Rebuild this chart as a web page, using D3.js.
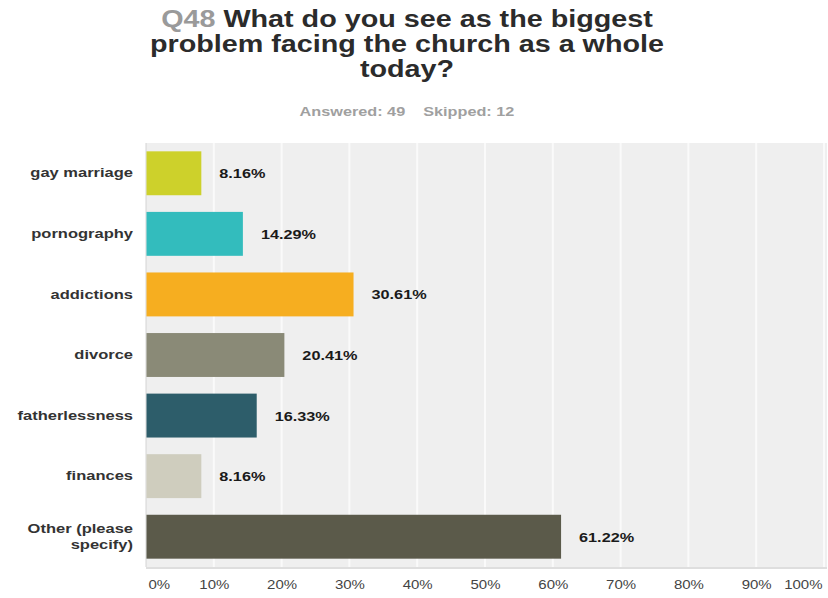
<!DOCTYPE html>
<html>
<head>
<meta charset="utf-8">
<script src="https://cdn.jsdelivr.net/npm/d3@7"></script>
<style>
  html, body { margin: 0; padding: 0; background: #fff; }
  svg { display: block; font-family: "Liberation Sans", Arial, sans-serif; }
</style>
</head>
<body>
<svg id="chart" width="828" height="598"></svg>
<script>
// Survey answers, top to bottom
const categories = ["gay marriage", "pornography", "addictions", "divorce", "fatherlessness", "finances", "Other (please specify)"];
const percents = [8.16, 14.29, 30.61, 20.41, 16.33, 8.16, 61.22];
const barColors = ["#cdd12b", "#33bcbd", "#f6ae20", "#8a8a77", "#2d5d6a", "#cfcdbe", "#5b5a4a"];
const tickValues = [0, 10, 20, 30, 40, 50, 60, 70, 80, 90, 100];

const titleNumber = "Q48";
const titleLines = ["What do you see as the biggest", "problem facing the church as a whole", "today?"];
const answered = 49, skipped = 12;

const svg = d3.select("#chart");
const plot = { left: 146, right: 824, top: 143, bottom: 567, bgRight: 827 };
const WIDE = 1.25; // horizontal stretch of the wide bold face

// widen a text element about a fixed anchor x
function widen(sel, ax, s = WIDE) {
  sel.attr("transform", `translate(${ax},0) scale(${s},1) translate(${-ax},0)`);
}

const x = d3.scaleLinear().domain([0, 100]).range([plot.left, plot.right]);
const y = d3.scaleBand().domain(categories).range([plot.top, plot.bottom])
  .paddingInner(0.275).paddingOuter(0.1375);

// Title
const cx = 407;
const title = svg.append("g").attr("font-weight", "bold").attr("font-size", 23).attr("fill", "#2b2b2b")
  .attr("text-anchor", "middle");
const t1 = title.append("text").attr("x", cx).attr("y", 27);
t1.append("tspan").attr("fill", "#9a9a9a").text(titleNumber + " ");
t1.append("tspan").text(titleLines[0]);
title.append("text").attr("x", cx).attr("y", 52).text(titleLines[1]);
title.append("text").attr("x", cx).attr("y", 77).text(titleLines[2]);
widen(title.selectAll("text"), cx);

const sub = svg.append("text").attr("x", cx).attr("y", 116).attr("text-anchor", "middle")
  .attr("font-size", 12.5).attr("font-weight", "bold").attr("fill", "#a0a0a0")
  .attr("xml:space", "preserve")
  .text(`Answered: ${answered}    Skipped: ${skipped}`);
widen(sub, cx, 1.3);

// Plot background with a soft bottom edge
svg.append("rect").attr("x", plot.left).attr("y", plot.bottom).attr("width", plot.bgRight - plot.left).attr("height", 2)
  .attr("fill", "#dedede");
svg.append("rect").attr("x", plot.left).attr("y", plot.top).attr("width", plot.bgRight - plot.left)
  .attr("height", plot.bottom - plot.top).attr("fill", "#efefef");

// Vertical gridlines
svg.append("g").selectAll("line").data(tickValues.slice(1)).join("line")
  .attr("x1", d => x(d)).attr("x2", d => x(d))
  .attr("y1", plot.top).attr("y2", plot.bottom)
  .attr("stroke", "#fafafa").attr("stroke-width", 2);

// Left axis line
svg.append("line").attr("x1", plot.left).attr("x2", plot.left).attr("y1", plot.top).attr("y2", plot.bottom)
  .attr("stroke", "#d4d4d4").attr("stroke-width", 1);

// Bars
svg.append("g").selectAll("rect").data(categories).join("rect")
  .attr("x", x(0) + 0.5)
  .attr("y", d => y(d))
  .attr("width", (d, i) => x(percents[i]) - x(0) - 0.5)
  .attr("height", y.bandwidth())
  .attr("fill", (d, i) => barColors[i]);

// Value labels
svg.append("g").selectAll("text").data(categories).join("text")
  .attr("x", (d, i) => x(percents[i]) + 18)
  .attr("y", d => y(d) + y.bandwidth() / 2 + 5)
  .attr("font-size", 13).attr("font-weight", "bold").attr("fill", "#1a1a1a")
  .text((d, i) => percents[i].toFixed(2) + "%")
  .each(function(d, i) { widen(d3.select(this), x(percents[i]) + 18); });

// Category labels
const yAxis = d3.axisLeft(y).tickSize(0).tickPadding(13);
const yg = svg.append("g").attr("transform", `translate(${plot.left},0)`).call(yAxis);
yg.select(".domain").remove();
yg.selectAll(".tick text")
  .attr("font-size", 13).attr("font-weight", "bold").attr("fill", "#333")
  .attr("font-family", "Liberation Sans, Arial, sans-serif")
  .each(function(d) {
    const el = d3.select(this);
    if (d === "Other (please specify)") {
      el.text(null);
      el.append("tspan").attr("x", -13).attr("dy", "-0.28em").text("Other (please");
      el.append("tspan").attr("x", -13).attr("dy", "1.25em").text("specify)");
    }
    widen(el, -13, 1.27);
  });

// Percentage axis
const xAxis = d3.axisBottom(x).tickValues(tickValues).tickSize(0).tickPadding(13).tickFormat(d => d + "%");
const xg = svg.append("g").attr("transform", `translate(0,${plot.bottom})`).call(xAxis);
xg.select(".domain").remove();
xg.selectAll(".tick text")
  .attr("font-size", 12.5).attr("fill", "#444")
  .attr("font-family", "Liberation Sans, Arial, sans-serif")
  .attr("text-anchor", d => d === 0 ? "start" : d === 100 ? "end" : "middle")
  .attr("x", d => d === 100 ? -2 : d === 0 ? 2 : 0)
  .each(function(d) { widen(d3.select(this), d === 100 ? -2 : d === 0 ? 2 : 0, 1.2); });
</script>
</body>
</html>
